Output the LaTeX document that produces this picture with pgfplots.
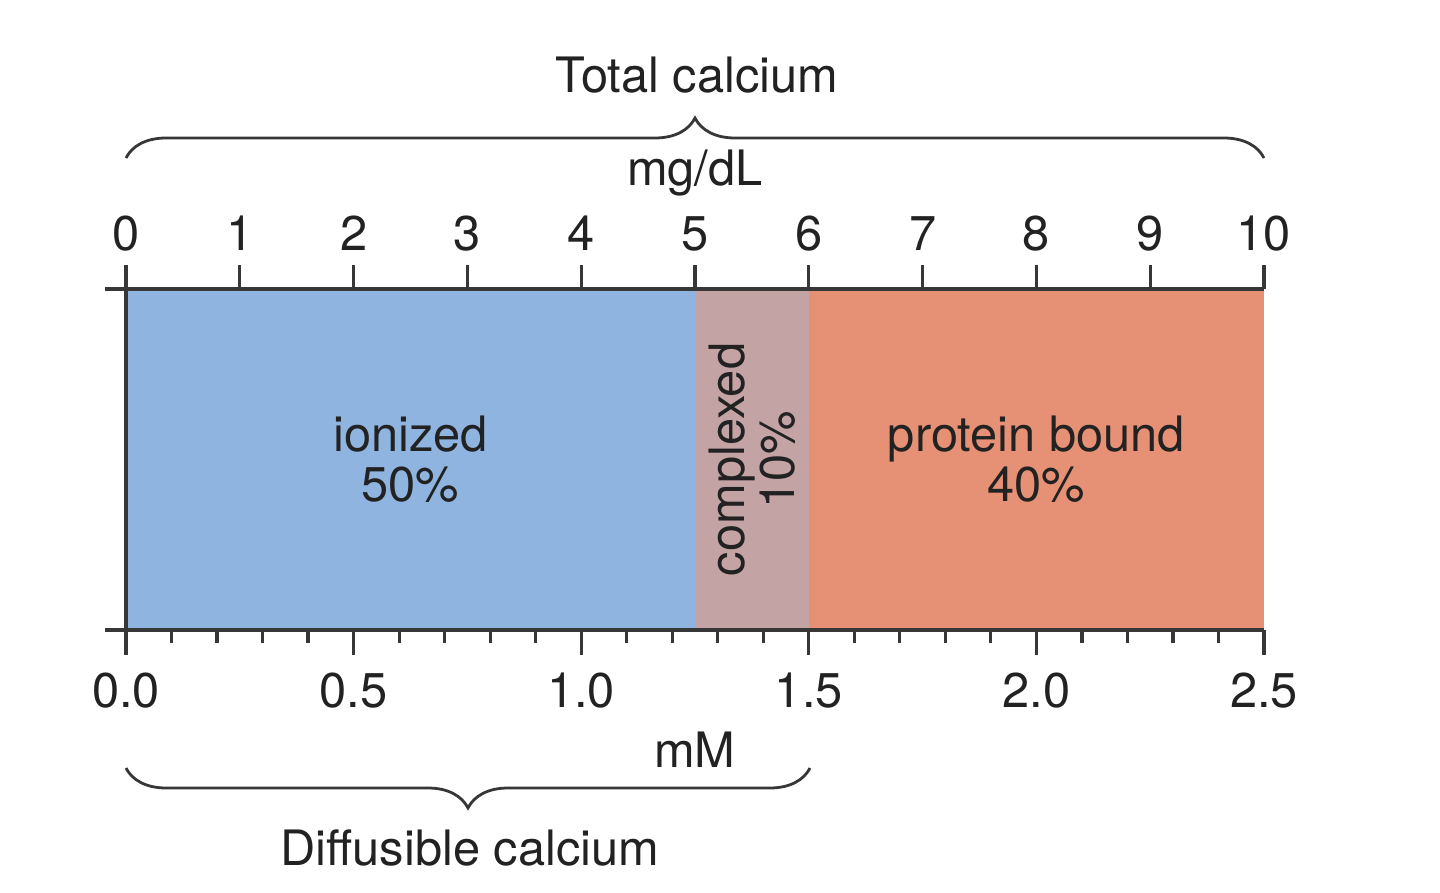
\documentclass[border=0pt]{standalone}
\usepackage{pgfplots}
\pgfplotsset{compat=1.18}
\usepackage{fontspec}
\setmainfont{TeX Gyre Heros}
\usetikzlibrary{decorations.pathreplacing}
\definecolor{ionblue}{RGB}{143,180,224}
\definecolor{cplx}{RGB}{196,163,165}
\definecolor{prot}{RGB}{230,145,117}
\definecolor{axgray}{RGB}{55,55,55}
\definecolor{txt}{RGB}{34,34,34}
\begin{document}
\begin{tikzpicture}[every node/.style={text=txt}, font=\fontsize{12.2}{12.5}\selectfont]
\path[use as bounding box] (0,0) rectangle (360pt,223pt);
\begin{axis}[
  at={(31.5pt,65.5pt)}, anchor=south west,
  scale only axis, width=284.5pt, height=85.25pt,
  xmin=0, xmax=10, ymin=0.5, ymax=1.5,
  xbar stacked, bar width=1,
  axis x line*=top, axis y line=none,
  axis on top=true,
  ytick=\empty,
  xtick={0,1,...,10},
  tick align=outside,
  major tick length=6pt,
  axis line style={line width=0.8pt, draw=axgray, -},
  major tick style={line width=0.8pt, draw=axgray},
  /pgf/number format/assume math mode=true,
  tick label style={font=\fontsize{12.2}{12.5}\selectfont, text=txt},
  xlabel={mg/dL},
  xlabel style={font=\fontsize{12.2}{12.5}\selectfont, text=txt, yshift=-2pt},
]
\addplot[fill=ionblue, draw=none] coordinates {(5,1)};
\addplot[fill=cplx, draw=none] coordinates {(1,1)};
\addplot[fill=prot, draw=none] coordinates {(4,1)};
\end{axis}
\begin{axis}[
  at={(31.5pt,65.5pt)}, anchor=south west,
  scale only axis, width=284.5pt, height=85.25pt,
  xmin=0, xmax=2.5, ymin=0, ymax=1,
  axis x line*=bottom, axis y line=none,
  ytick=\empty,
  xtick={0,0.5,...,2.5},
  minor x tick num=4,
  tick align=outside,
  major tick length=6.25pt,
  minor tick length=3.25pt,
  axis line style={line width=0.8pt, draw=axgray, -},
  major tick style={line width=0.8pt, draw=axgray},
  minor tick style={line width=0.8pt, draw=axgray},
  /pgf/number format/assume math mode=true,
  xticklabel style={/pgf/number format/.cd, fixed, fixed zerofill, precision=1},
  tick label style={font=\fontsize{12.2}{12.5}\selectfont, text=txt, yshift=-1pt},
  xlabel={mM},
  xlabel style={font=\fontsize{12.2}{12.5}\selectfont, text=txt, yshift=1pt},
  clip=false,
]
\node[align=center] at (axis cs:0.625,0.5) {ionized\\50\%};
\node[align=center, rotate=90] at (axis cs:1.375,0.5) {complexed\\10\%};
\node[align=center] at (axis cs:2.0,0.5) {protein bound\\40\%};
\end{axis}
% left border and stubs
\draw[line width=0.8pt, axgray] (31.5pt,65.5pt) -- (31.5pt,150.75pt);
\draw[line width=0.8pt, axgray] (26.25pt,65.5pt) -- (31.5pt,65.5pt);
\draw[line width=0.8pt, axgray] (26.25pt,150.75pt) -- (31.5pt,150.75pt);
% braces
\draw[line width=0.7pt, axgray, decorate, decoration={brace, amplitude=10pt}] (31.5pt,183.5pt) -- (316pt,183.5pt);
\node at (174.25pt,204.25pt) {Total calcium};
\draw[line width=0.7pt, axgray, decorate, decoration={brace, amplitude=10pt}] (202.5pt,31pt) -- (31.5pt,31pt);
\node at (117.5pt,11pt) {Diffusible calcium};
\end{tikzpicture}
\end{document}
